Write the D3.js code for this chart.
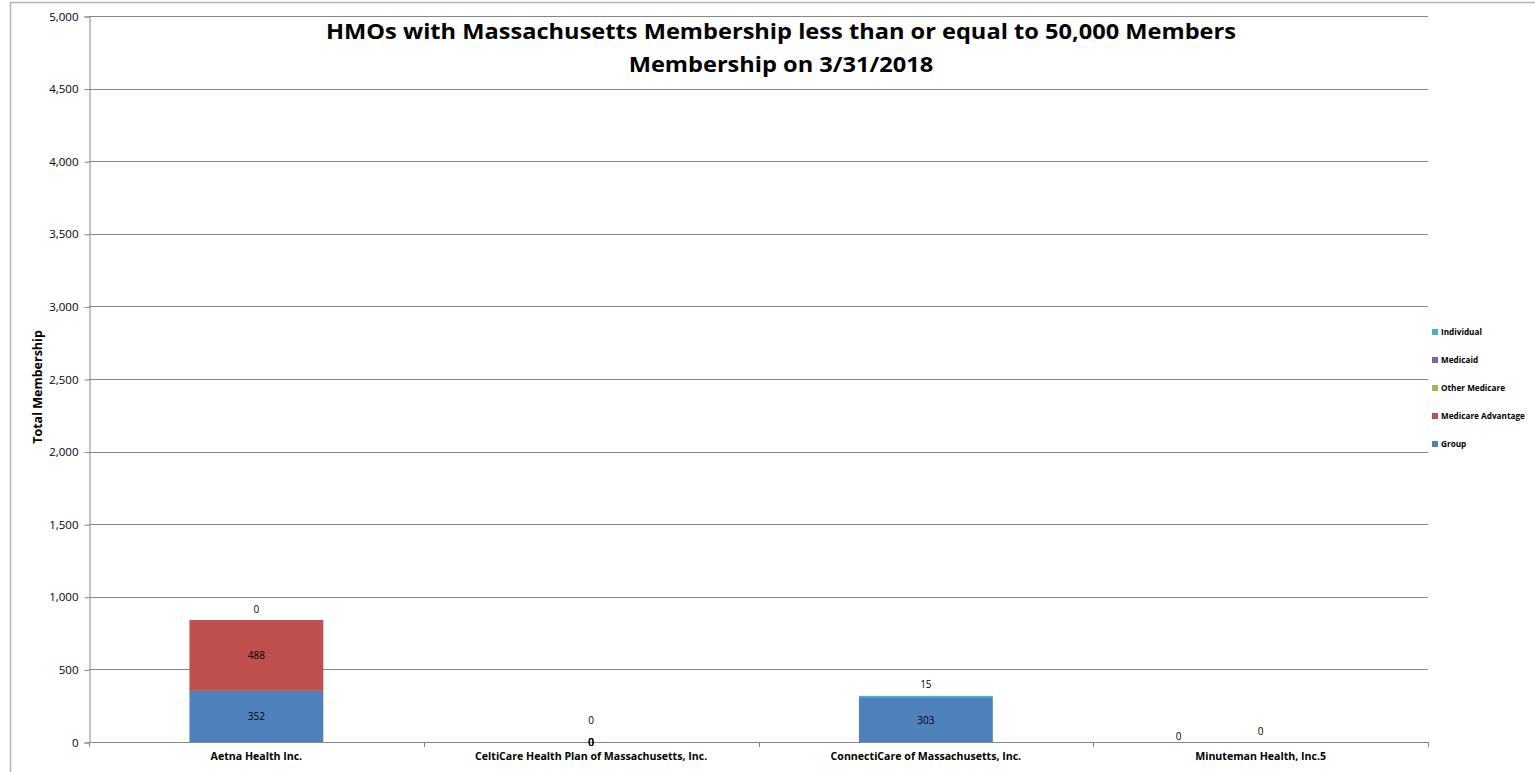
<!DOCTYPE html>
<html>
<head>
<meta charset="utf-8">
<script src="https://cdn.jsdelivr.net/npm/d3@7"></script>
<style>
  body { margin: 0; background: #fff; }
  svg { display: block; font-family: "Open Sans", "DejaVu Sans", sans-serif; }
</style>
</head>
<body>
<div id="chart"></div>
<script>
// Chart data
var categories = ["Aetna Health Inc.", "CeltiCare Health Plan of Massachusetts, Inc.", "ConnectiCare of Massachusetts, Inc.", "Minuteman Health, Inc.5"];
var seriesNames = ["Group", "Medicare Advantage", "Other Medicare", "Medicaid", "Individual"];
var groupValues = [352, 0, 303, 0];
var medicareAdvValues = [488, 0, 0, 0];
var otherMedicareValues = [0, 0, 0, 0];
var medicaidValues = [0, 0, 0, 0];
var individualValues = [0, 0, 15, 0];
var seriesColors = ["#4f81bd", "#c0504d", "#9bbb59", "#8064a2", "#4bacc6"];
var yTicks = [0, 500, 1000, 1500, 2000, 2500, 3000, 3500, 4000, 4500, 5000];
var titleLines = ["HMOs with Massachusetts Membership less than or equal to 50,000 Members", "Membership on 3/31/2018"];
// which data labels Excel shows for each category
var shownLabels = [
    ["Group", "Medicare Advantage", "Individual"],
    ["Group", "Medicare Advantage", "Other Medicare", "Medicaid", "Individual"],
    ["Group", "Individual"],
    ["Group", "Individual"]
];

var W = 1535, H = 772;
var plot = { left: 89, right: 1428, top: 16, bottom: 742 };

var svg = d3.select("#chart").append("svg")
    .attr("width", W)
    .attr("height", H);

// outer chart border
svg.append("rect")
    .attr("x", 10.5).attr("y", 2.5)
    .attr("width", W + 20).attr("height", H + 20)
    .style("fill", "none")
    .style("stroke", "#b3b3b3")
    .style("stroke-width", 1.5);

var rows = categories.map(function(c, i) {
    return {
        cat: c,
        "Group": groupValues[i],
        "Medicare Advantage": medicareAdvValues[i],
        "Other Medicare": otherMedicareValues[i],
        "Medicaid": medicaidValues[i],
        "Individual": individualValues[i]
    };
});

var stacked = d3.stack().keys(seriesNames)(rows);

var x = d3.scaleBand()
    .domain(categories)
    .range([plot.left, plot.right])
    .paddingInner(0.6)
    .paddingOuter(0.3);

var y = d3.scaleLinear()
    .domain([0, 5000])
    .range([plot.bottom, plot.top]);

var color = d3.scaleOrdinal().domain(seriesNames).range(seriesColors);

// gridlines
svg.append("g").selectAll("line")
    .data(yTicks.filter(function(t) { return t > 0; }))
    .enter().append("line")
    .attr("x1", plot.left).attr("x2", plot.right)
    .attr("y1", function(d) { return Math.round(y(d)) + 0.5; })
    .attr("y2", function(d) { return Math.round(y(d)) + 0.5; })
    .style("stroke", "#868686")
    .style("stroke-width", 1);

// y axis
var yAxis = svg.append("g")
    .attr("transform", "translate(" + (plot.left + 0.5) + ",0.5)")
    .call(d3.axisLeft(y).tickValues(yTicks).tickFormat(d3.format(",")).tickSize(5).tickPadding(6));
yAxis.select(".domain").style("stroke", "#868686");
yAxis.selectAll(".tick line").style("stroke", "#868686");
yAxis.selectAll(".tick text")
    .style("font-family", "'Open Sans', sans-serif")
    .style("font-size", "11.5px")
    .style("fill", "#000");

// bars
var layers = svg.append("g").selectAll("g")
    .data(stacked)
    .enter().append("g")
    .style("fill", function(d) { return color(d.key); });

layers.selectAll("rect")
    .data(function(d) { return d; })
    .enter().append("rect")
    .attr("x", function(d) { return x(d.data.cat); })
    .attr("width", x.bandwidth())
    .attr("y", function(d) { return y(d[1]); })
    .attr("height", function(d) { return y(d[0]) - y(d[1]); });

// x axis line with ticks at category boundaries
var step = x.step();
var bounds = [plot.left].concat(categories.map(function(c) { return x(c) + x.bandwidth() / 2 + step / 2; }));
svg.append("line")
    .attr("x1", plot.left).attr("x2", plot.right)
    .attr("y1", plot.bottom + 0.5).attr("y2", plot.bottom + 0.5)
    .style("stroke", "#868686");
svg.append("g").selectAll("line")
    .data(bounds)
    .enter().append("line")
    .attr("x1", function(d) { return Math.round(d) + 0.5; })
    .attr("x2", function(d) { return Math.round(d) + 0.5; })
    .attr("y1", plot.bottom)
    .attr("y2", plot.bottom + 5)
    .style("stroke", "#868686");

// category labels
svg.append("g").selectAll("text")
    .data(categories)
    .enter().append("text")
    .attr("x", function(d) { return x(d) + x.bandwidth() / 2; })
    .attr("y", 760)
    .attr("text-anchor", "middle")
    .style("font-size", "10.6px")
    .style("font-weight", "bold")
    .text(function(d) { return d; });

// data labels
var nudge = {
    "CeltiCare Health Plan of Massachusetts, Inc.|Individual": [0, -11],
    "Minuteman Health, Inc.5|Group": [-82, -6]
};
var labels = [];
stacked.forEach(function(layer) {
    layer.forEach(function(d, i) {
        if (shownLabels[i].indexOf(layer.key) < 0) return;
        var v = d[1] - d[0];
        var cx = x(d.data.cat) + x.bandwidth() / 2;
        var cy;
        if (layer.key === "Individual") {
            cy = y(d[1]) - 11;
        } else if (v > 0) {
            cy = (y(d[0]) + y(d[1])) / 2;
        } else {
            cy = y(d[1]);
        }
        var n = nudge[d.data.cat + "|" + layer.key] || [0, 0];
        labels.push({ x: cx + n[0], y: cy + n[1], v: v });
    });
});

svg.append("g").selectAll("text")
    .data(labels)
    .enter().append("text")
    .attr("x", function(d) { return d.x; })
    .attr("y", function(d) { return d.y; })
    .attr("dy", "0.35em")
    .attr("text-anchor", "middle")
    .style("font-size", "10px")
    .style("fill", "#000")
    .text(function(d) { return d.v; });

// y axis title
svg.append("text")
    .attr("transform", "translate(42," + ((plot.top + plot.bottom) / 2 + 8) + ") rotate(-90)")
    .attr("text-anchor", "middle")
    .style("font-size", "12.5px")
    .style("font-weight", "bold")
    .text("Total Membership");

// title
var title = svg.append("g").selectAll("text")
    .data(titleLines)
    .enter().append("text")
    .attr("x", 781)
    .attr("y", function(d, i) { return 39 + i * 33; })
    .attr("text-anchor", "middle")
    .style("font-size", "21px")
    .style("font-weight", "bold")
    .text(function(d) { return d; });
// squeeze to Calibri-like width
var natural = title.nodes()[0].getComputedTextLength();
var k = 910 / natural;
title.each(function() {
    var len = this.getComputedTextLength();
    d3.select(this).attr("textLength", len * k).attr("lengthAdjust", "spacingAndGlyphs");
});

// legend (Group at bottom, Individual at top)
var legend = svg.append("g").selectAll("g")
    .data(seriesNames)
    .enter().append("g")
    .attr("transform", function(d, i) { return "translate(1432," + (444 - i * 28) + ")"; });
legend.append("rect")
    .attr("x", 0).attr("y", -3)
    .attr("width", 6).attr("height", 6)
    .style("fill", function(d) { return color(d); });
legend.append("text")
    .attr("x", 9)
    .attr("dy", "0.35em")
    .style("font-size", "8.2px")
    .style("font-weight", "bold")
    .text(function(d) { return d; });
</script>
</body>
</html>
